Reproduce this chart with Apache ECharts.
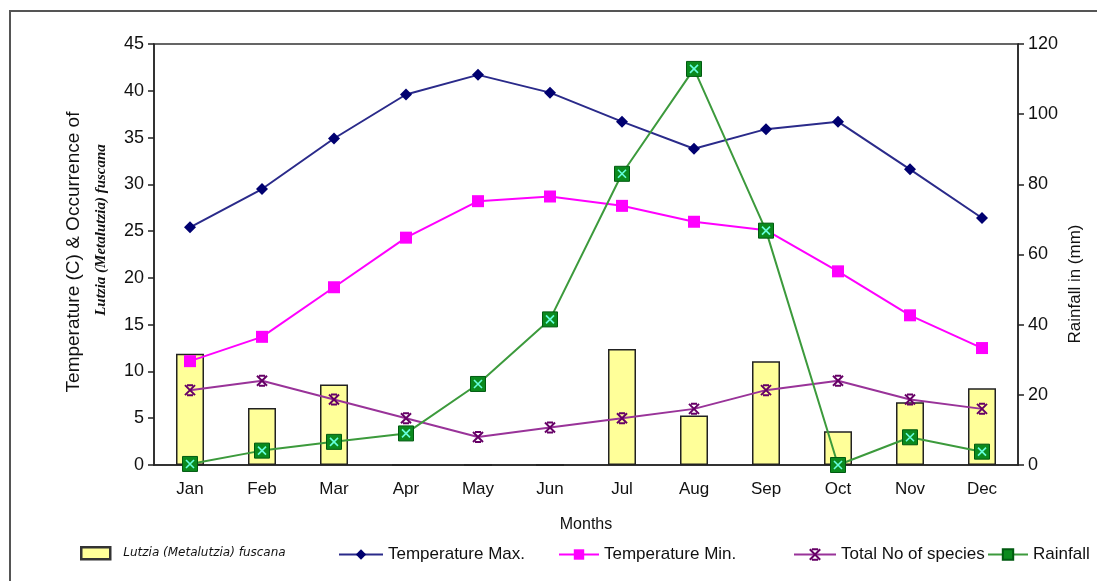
<!DOCTYPE html>
<html><head><meta charset="utf-8">
<script src="https://cdn.jsdelivr.net/npm/echarts@6/dist/echarts.min.js"></script>
<style>html,body{margin:0;padding:0;background:#fff;}#c{width:1097px;height:581px;}</style>
</head><body><div id="c"></div>
<script>
const months = ['Jan','Feb','Mar','Apr','May','Jun','Jul','Aug','Sep','Oct','Nov','Dec'];
const lutzia = [11.9, 6.1, 8.6, 0, 0, 0, 12.4, 5.3, 11.1, 3.6, 6.7, 8.2];
const tempMax = [25.4, 29.5, 34.9, 39.6, 41.7, 39.8, 36.7, 33.8, 35.9, 36.7, 31.6, 26.4];
const tempMin = [11.1, 13.7, 19.0, 24.3, 28.2, 28.7, 27.7, 26.0, 25.1, 20.7, 16.0, 12.5];
const species = [8, 9, 7, 5, 3, 4, 5, 6, 8, 9, 7, 6];
const rainfall = [0.3, 4.1, 6.6, 9.0, 23.1, 41.5, 83.0, 112.9, 66.8, 0, 7.9, 3.8];

const FONT = 'Liberation Sans';
const chart = echarts.init(document.getElementById('c'));
const legendBase = {orient:'horizontal', top:541, itemHeight:13, textStyle:{fontFamily:FONT, fontSize:17, color:'#111'}};
chart.setOption({
  backgroundColor:'#fff',
  animation:false,
  grid:{left:154, right:79, top:44, bottom:116, show:true, borderColor:'#333', borderWidth:1.5, backgroundColor:'transparent'},
  legend:[
    Object.assign({}, legendBase, {left:75, itemWidth:29, itemHeight:12, icon:'rect', itemGap:0,
      itemStyle:{borderWidth:2.5, borderColor:'#333'},
      data:[{name:'Lutzia (Metalutzia) fuscana', textStyle:{fontFamily:'DejaVu Sans', fontStyle:'italic', fontSize:12, padding:[0,0,0,8]}}]}),
    Object.assign({}, legendBase, {left:333, itemWidth:44, data:['Temperature Max.']}),
    Object.assign({}, legendBase, {left:553, itemWidth:40, data:['Temperature Min.']}),
    Object.assign({}, legendBase, {left:788, itemWidth:42, data:['Total No of species']}),
    Object.assign({}, legendBase, {left:982, itemWidth:40, data:['Rainfall']})
  ],
  xAxis:{type:'category', data:months, name:'Months', nameLocation:'middle', nameGap:52,
    nameTextStyle:{fontFamily:FONT, fontSize:16, color:'#111'},
    axisLine:{lineStyle:{color:'#222', width:1.5}}, axisTick:{length:6, lineStyle:{color:'#222', width:1.5}},
    axisLabel:{fontFamily:FONT, fontSize:17, color:'#111', margin:16}},
  yAxis:[
    {type:'value', min:0, max:45, interval:5, position:'left',
      axisLine:{show:true, lineStyle:{color:'#222', width:1.5}}, axisTick:{show:true, length:6, lineStyle:{color:'#222', width:1.5}},
      splitLine:{show:false}, axisLabel:{fontFamily:FONT, fontSize:18, color:'#111', margin:10}},
    {type:'value', min:0, max:120, interval:20, position:'right',
      axisLine:{show:true, lineStyle:{color:'#222', width:1.5}}, axisTick:{show:true, length:6, lineStyle:{color:'#222', width:1.5}},
      splitLine:{show:false}, axisLabel:{fontFamily:FONT, fontSize:18, color:'#111', margin:10}}
  ],
  graphic:[
    {type:'rect', shape:{x:10, y:11, width:1200, height:700}, style:{fill:'none', stroke:'#555', lineWidth:2}, silent:true},
    {type:'text', x:74, y:252, rotation:Math.PI/2, style:{text:'Temperature (C) & Occurrence of', fontFamily:FONT, fontSize:19, fill:'#111', align:'center', verticalAlign:'middle'}},
    {type:'text', x:101, y:230, rotation:Math.PI/2, style:{text:'Lutzia (Metalutzia) fuscana', fontFamily:'Liberation Serif', fontStyle:'italic', fontWeight:'bold', fontSize:15, fill:'#111', align:'center', verticalAlign:'middle'}},
    {type:'text', x:1075, y:284, rotation:Math.PI/2, style:{text:'Rainfall in (mm)', fontFamily:FONT, fontSize:17, fill:'#111', align:'center', verticalAlign:'middle'}}
  ],
  series:[
    {name:'Lutzia (Metalutzia) fuscana', type:'bar', data:lutzia, barWidth:28, z:1,
      itemStyle:{color:'#ffff99', borderColor:'#222', borderWidth:1.5}},
    {name:'Temperature Max.', type:'line', data:tempMax, symbol:'diamond', symbolSize:12, z:3,
      lineStyle:{color:'#2a2a8a', width:2}, itemStyle:{color:'#000070'}},
    {name:'Temperature Min.', type:'line', data:tempMin, symbol:'rect', symbolSize:12, z:3,
      lineStyle:{color:'#ff00ff', width:2}, itemStyle:{color:'#ff00ff'}},
    {name:'Total No of species', type:'line', data:species, symbol:'path://M0,0L10,10M10,0L0,10M2,0L8,0M2,10L8,10', symbolSize:10, z:3,
      lineStyle:{color:'#993399', width:2}, itemStyle:{color:'#660066', borderColor:'#660066', borderWidth:2}},
    {name:'Rainfall', type:'line', yAxisIndex:1, data:rainfall, symbol:'rect', symbolSize:15, z:4,
      lineStyle:{color:'#3c9a3c', width:2}, itemStyle:{color:'#0b8a1e', borderColor:'#005a10', borderWidth:1}},
    {name:'RainfallX', type:'line', yAxisIndex:1, data:rainfall, symbol:'path://M0,0L10,10M10,0L0,10', symbolSize:8, z:5,
      lineStyle:{width:0, opacity:0}, itemStyle:{color:'#66ffdd', borderColor:'#66ffdd', borderWidth:1.6}, silent:true}
  ]
});
</script></body></html>
